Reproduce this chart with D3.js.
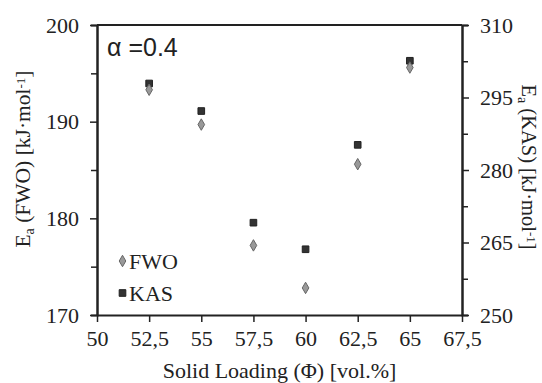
<!DOCTYPE html>
<html>
<head>
<meta charset="utf-8">
<script src="https://cdn.jsdelivr.net/npm/d3@7"></script>
<style>
  body { margin: 0; background: #fff; }
  text { font-family: "Liberation Serif", "Times New Roman", serif; fill: #222; }
</style>
</head>
<body>
<div id="chart"></div>
<script>
// data
let loading = [52.5, 55, 57.5, 60, 62.5, 65];
let fwo = [193.3, 189.7, 177.2, 172.8, 185.6, 195.6];
let kas = [297.9, 292.2, 269.1, 263.6, 285.2, 302.6];
let xTickValues = [50, 52.5, 55, 57.5, 60, 62.5, 65, 67.5];
let leftTicks = [170, 180, 190, 200];
let rightTicks = [250, 265, 280, 295, 310];

let width = 542;
let height = 383;
let plotLeft = 97, plotRight = 462, plotTop = 25, plotBottom = 315;

let svg = d3.select("#chart")
            .append("svg")
            .attr("width", width)
            .attr("height", height);

let xScale = d3.scaleLinear().domain([50, 67.5]).range([plotLeft, plotRight]);
let yLeft = d3.scaleLinear().domain([170, 200]).range([plotBottom, plotTop]);
let yRight = d3.scaleLinear().domain([250, 310]).range([plotBottom, plotTop]);

let fmt = d => String(d).replace(".", ",");

// minor ticks
svg.append("g")
    .attr("transform", "translate(" + plotLeft + ",0)")
    .call(d3.axisLeft(yLeft).tickValues([175, 185, 195]).tickSize(6).tickFormat(""));
svg.append("g")
    .attr("transform", "translate(" + plotRight + ",0)")
    .call(d3.axisRight(yRight).tickValues([257.5, 272.5, 287.5, 302.5]).tickSize(6).tickFormat(""));

// axes
svg.append("g")
    .attr("transform", "translate(0," + plotBottom + ")")
    .call(d3.axisBottom(xScale).tickValues(xTickValues).tickSize(7).tickSizeOuter(0).tickPadding(8).tickFormat(fmt));
svg.append("g")
    .attr("transform", "translate(" + plotLeft + ",0)")
    .call(d3.axisLeft(yLeft).tickValues(leftTicks).tickSize(7).tickSizeOuter(0).tickPadding(11));
svg.append("g")
    .attr("transform", "translate(" + plotRight + ",0)")
    .call(d3.axisRight(yRight).tickValues(rightTicks).tickSize(7).tickSizeOuter(0).tickPadding(11));

svg.selectAll(".domain").attr("stroke", "#222").attr("stroke-width", 2);
svg.selectAll(".tick line").attr("stroke", "#222").attr("stroke-width", 1.5);
svg.selectAll(".tick text")
    .style("font-family", "Liberation Serif, serif")
    .style("font-size", "22px")
    .attr("fill", "#222");

// top frame line
svg.append("line")
    .attr("x1", plotLeft).attr("x2", plotRight)
    .attr("y1", plotTop).attr("y2", plotTop)
    .attr("stroke", "#222").attr("stroke-width", 2);

// axis titles
svg.append("text")
    .attr("x", xScale(58.75)).attr("y", 378)
    .attr("text-anchor", "middle")
    .style("font-size", "22px")
    .text("Solid Loading (Φ) [vol.%]");

function energyTitle(sel, method) {
  sel.append("tspan").text("E");
  sel.append("tspan").attr("baseline-shift", "-25%").style("font-size", "14px").text("a");
  sel.append("tspan").text(" (" + method + ") [kJ·mol");
  sel.append("tspan").attr("baseline-shift", "40%").style("font-size", "13px").text("-1");
  sel.append("tspan").text("]");
}

svg.append("text")
    .attr("transform", "translate(30,159) rotate(-90)")
    .attr("text-anchor", "middle")
    .style("font-size", "21.5px")
    .call(energyTitle, "FWO");

svg.append("text")
    .attr("transform", "translate(522,167) rotate(90)")
    .attr("text-anchor", "middle")
    .style("font-size", "20.5px")
    .call(energyTitle, "KAS");

// alpha label
svg.append("text")
    .attr("x", 107).attr("y", 56)
    .style("font-family", "Liberation Sans, Arial, sans-serif")
    .style("font-size", "25px")
    .text("α =0.4");

// points
let diamond = d3.symbol().type(d3.symbolDiamond).size(38);
let square = d3.symbol().type(d3.symbolSquare).size(44);

svg.selectAll(".kas")
    .data(loading)
    .enter().append("path")
    .attr("class", "kas")
    .attr("d", square)
    .attr("transform", (d, i) => "translate(" + xScale(d) + "," + yRight(kas[i]) + ")")
    .attr("fill", "#333")
    .attr("stroke", "#222");

svg.selectAll(".fwo")
    .data(loading)
    .enter().append("path")
    .attr("class", "fwo")
    .attr("d", diamond)
    .attr("transform", (d, i) => "translate(" + xScale(d) + "," + yLeft(fwo[i]) + ")")
    .attr("fill", "#999")
    .attr("stroke", "#666");

// legend
let legend = svg.append("g");
legend.append("path")
    .attr("d", diamond)
    .attr("transform", "translate(122.5,261)")
    .attr("fill", "#999").attr("stroke", "#666");
legend.append("text")
    .attr("x", 129).attr("y", 268.5)
    .style("font-size", "22px")
    .text("FWO");
legend.append("path")
    .attr("d", square)
    .attr("transform", "translate(122.5,293)")
    .attr("fill", "#333").attr("stroke", "#222");
legend.append("text")
    .attr("x", 129).attr("y", 300.5)
    .style("font-size", "22px")
    .text("KAS");
</script>
</body>
</html>
